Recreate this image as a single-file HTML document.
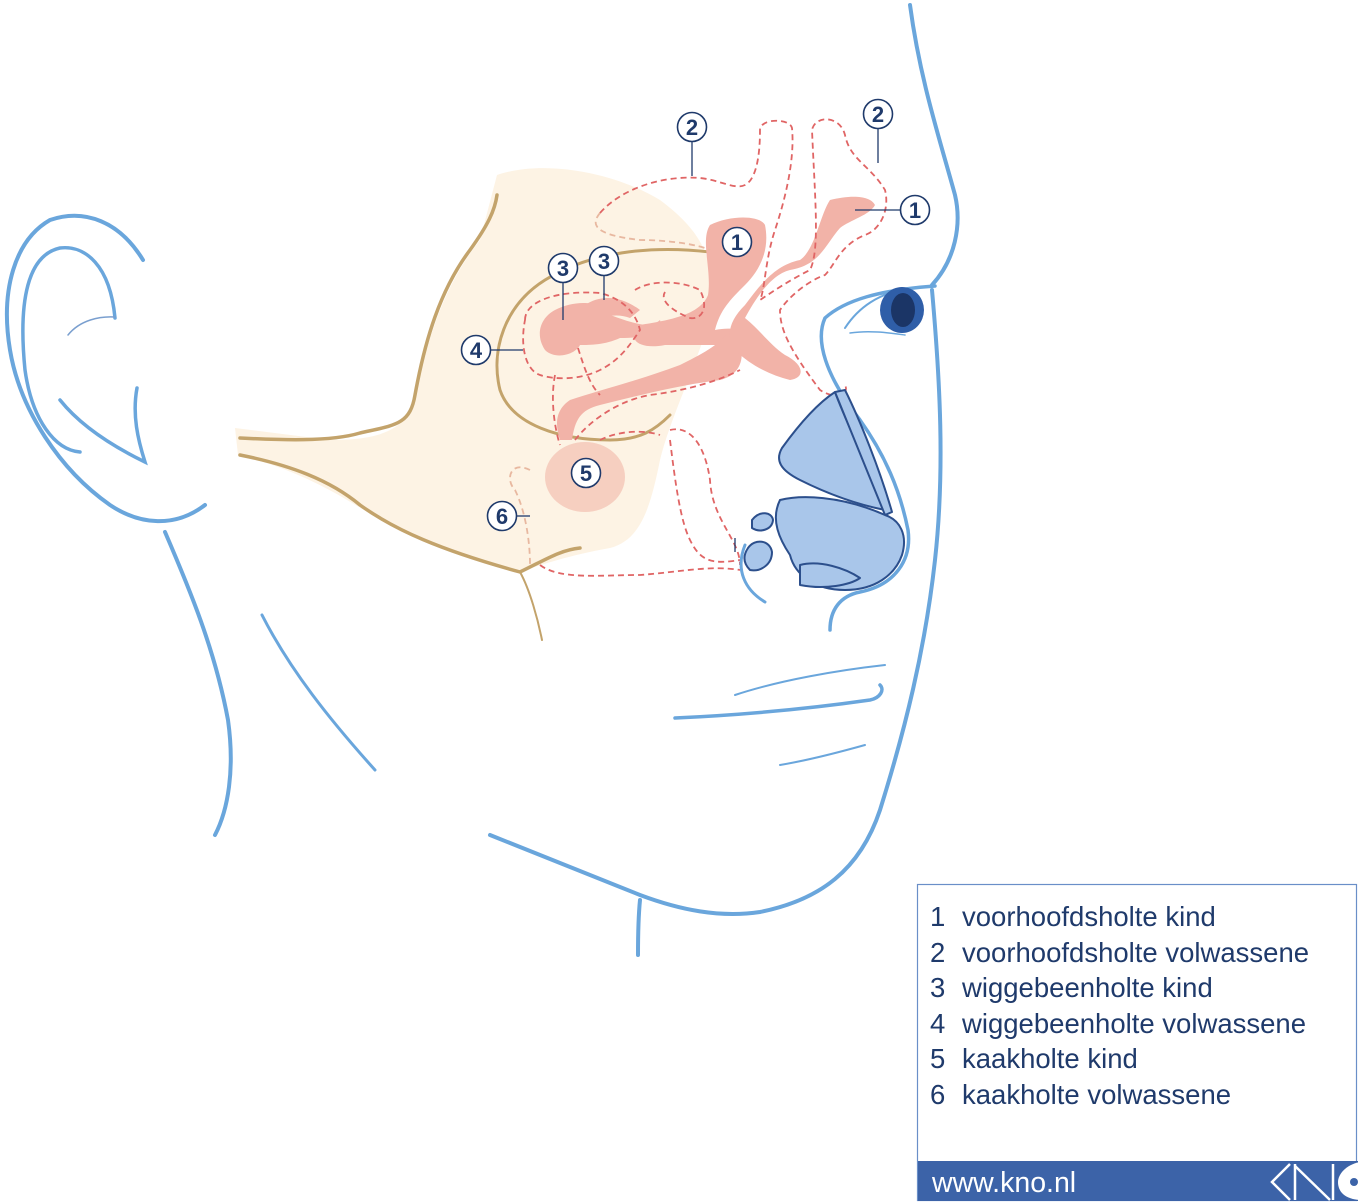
<!DOCTYPE html>
<html><head><meta charset="utf-8"><style>
html,body{margin:0;padding:0;background:#fff;}
svg{display:block;}
.leg{font-family:"Liberation Sans",sans-serif;font-size:27.5px;fill:#1f3a6b;}
.num{font-family:"Liberation Sans",sans-serif;font-size:22px;font-weight:bold;fill:#1f3a6b;text-anchor:middle;}
</style></head><body>
<svg width="1360" height="1203" viewBox="0 0 1360 1203" xmlns="http://www.w3.org/2000/svg">
<path d="M235,428 L330,440 C380,440 405,430 415,400 C425,350 440,290 480,240 L497,175 C540,160 610,170 660,200 C700,230 720,260 710,320 C690,380 670,420 660,460 C650,510 640,540 610,548 C570,555 540,565 520,572 C480,560 420,545 380,520 C340,495 300,470 238,455 Z" fill="#fdf3e4"/>
<g fill="none" stroke="#c3a36b" stroke-width="3.5" stroke-linecap="round">
<path d="M240,438 C280,440 330,442 360,433 C395,425 410,425 415,395 C425,340 440,290 470,250 C488,225 495,210 497,195"/>
<path d="M240,455 C290,465 330,480 360,505 C395,530 440,550 520,572 C545,560 560,550 580,548"/>
<path d="M520,572 C530,590 538,620 542,640" stroke-width="2"/>
<path d="M710,252 C650,245 590,252 545,280 C505,305 490,350 500,390 C512,425 560,440 610,440 C640,440 655,430 670,415" stroke-width="3"/>
</g>
<g fill="#f2b3a8">
<path d="M710,225 C730,215 760,215 765,225 C770,250 760,270 745,285 C730,300 720,310 715,330 C740,325 760,335 740,345 C715,345 690,345 665,345 C640,350 625,340 640,325 C670,320 700,315 708,295 C712,270 700,240 710,225 Z"/>
<path d="M555,310 C575,300 600,300 610,315 C630,322 650,330 660,320 C665,335 640,338 620,338 C605,345 590,345 580,345 C575,355 555,360 545,350 C535,335 540,318 555,310 Z"/>
<path d="M585,305 C600,295 620,295 640,310 L630,318 C615,312 600,318 590,322 Z"/>
<path d="M730,330 C720,345 700,355 680,365 C640,380 600,390 570,400 C555,410 555,425 560,440 L572,440 C575,420 580,410 600,405 C640,395 680,385 720,380 C740,375 745,360 740,340 Z"/>
<path d="M830,200 C850,195 870,195 875,205 C870,215 850,220 840,228 C825,245 820,265 790,270 C770,275 755,300 745,318 C760,330 770,345 785,355 C805,365 805,378 790,380 C770,375 750,365 735,350 C725,335 730,320 745,305 C760,285 775,265 800,260 C815,250 820,215 830,200 Z"/>
<ellipse cx="585" cy="477" rx="40" ry="35" fill="#f6cfc0"/>
</g>
<g fill="none" stroke="#e06565" stroke-width="1.8" stroke-dasharray="6,4">
<path d="M600,213 C620,190 660,175 700,178 C720,180 735,190 745,185 C755,180 760,160 760,130 C760,118 790,118 792,128 C795,160 785,200 775,230 C765,260 765,290 760,300 C775,290 790,280 810,270 C820,250 815,200 812,130 C815,115 840,115 845,135 C850,160 870,165 885,190 C890,210 880,230 865,235 C840,245 835,265 825,275 C810,280 790,295 780,310 C780,330 790,350 820,390 C835,400 850,395 845,385"/>
<path d="M600,213 C590,225 595,235 640,240 C670,240 700,245 710,250" stroke="#e8b8a0"/>
<path d="M635,290 C650,280 680,280 700,290 C710,310 700,320 690,318 C670,310 660,300 665,292"/>
<path d="M525,320 C525,300 560,290 600,293 C620,298 635,310 640,330 C630,345 620,360 600,370 C580,380 555,380 540,375 C525,370 520,345 525,320 Z"/>
<path d="M555,375 C550,400 555,430 560,445 M575,440 C590,420 620,400 650,395 C690,390 720,380 740,370"/>
<path d="M578,348 C585,370 590,385 600,395"/>
<path d="M670,430 C690,425 705,445 710,480 C712,520 740,540 740,565"/>
<path d="M670,440 C675,480 680,520 690,540 C700,560 710,565 740,560"/>
<path d="M540,565 C560,580 600,575 640,575 C680,572 710,565 740,570"/>
<path d="M530,470 C510,460 505,480 515,490 C525,510 530,540 530,565" stroke="#e8b8a0"/>
<path d="M600,440 C620,430 645,430 660,435"/>
</g>
<g fill="none" stroke="#6aa6dc" stroke-width="4" stroke-linecap="round">
<path d="M910,5 C920,80 940,140 955,195 C962,225 955,260 932,285"/>
<path d="M932,290 C940,380 945,470 935,560 C925,650 905,730 880,810 C860,870 820,900 760,912 C720,918 680,910 640,895 C590,875 540,855 490,835"/>
<path d="M935,286 C880,290 845,300 825,318 C815,340 825,375 860,420 C885,455 900,490 908,530 C912,560 895,585 860,592 C840,596 830,610 830,630" stroke-width="3.5"/>
<path d="M745,545 C735,570 745,590 765,602" stroke-width="3"/>
<path d="M143,260 C120,222 85,208 50,220 C15,240 0,290 10,350 C20,410 60,470 110,505 C140,525 175,528 205,505"/>
<path d="M115,318 C110,265 85,245 60,248 C28,255 18,300 25,370 C32,420 55,450 80,452" stroke-width="3.5"/>
<path d="M60,400 C80,425 110,445 145,462 C138,440 132,415 137,388" stroke-width="3.5"/>
<path d="M165,532 C190,590 215,650 228,720 C235,770 228,810 215,835"/>
<path d="M262,615 C290,670 330,720 375,770" stroke-width="3"/>
<path d="M640,900 C638,920 638,940 638,955"/>
<path d="M675,718 C740,715 800,710 870,700 C880,698 885,690 880,685" stroke-width="3.5"/>
<path d="M735,695 C780,680 840,670 885,665" stroke-width="2"/>
<path d="M780,765 C810,760 840,752 865,745" stroke-width="2"/>
<path d="M845,328 C860,305 880,295 900,290" stroke-width="2"/>
<path d="M850,333 C870,330 890,333 905,335" stroke-width="1.5"/>
<path d="M68,335 C80,320 100,316 115,317" stroke-width="1.5" stroke="#7a9fcf"/>
</g>
<ellipse cx="902" cy="310" rx="22" ry="23" fill="#2f5ea8"/>
<ellipse cx="903" cy="310" rx="12" ry="17" fill="#1b3566"/>
<g fill="#a9c6ea" stroke="#2c4f8c" stroke-width="2" stroke-linejoin="round">
<path d="M835,392 C845,420 870,470 885,510 C860,505 830,495 800,480 C780,470 775,460 782,448 C795,430 815,405 835,392 Z"/>
<path d="M835,392 L845,390 C860,420 880,470 892,512 L885,515 Z"/>
<path d="M780,500 C800,495 840,495 885,515 C900,520 908,535 902,555 C895,575 875,590 845,590 C815,590 795,575 790,555 C780,540 770,520 780,500 Z"/>
<path d="M752,520 C760,510 772,512 773,520 C772,530 760,533 752,528 Z"/>
<path d="M748,548 C755,538 770,540 772,552 C772,565 760,572 750,570 C742,562 744,554 748,548 Z"/>
<path d="M800,565 C820,560 845,568 860,578 C850,585 825,590 800,585 Z"/>
</g>
<g stroke="#1f3a6b" stroke-width="1.3" fill="none">
<line x1="692" y1="142" x2="692" y2="176"/>
<line x1="878" y1="129" x2="878" y2="163"/>
<line x1="900" y1="210" x2="855" y2="210"/>
<line x1="563" y1="283" x2="563" y2="320"/>
<line x1="604" y1="276" x2="604" y2="300"/>
<line x1="491" y1="350" x2="523" y2="350"/>
<line x1="517" y1="516" x2="530" y2="516"/>
<line x1="735" y1="538" x2="735" y2="552"/>
</g>
<g fill="#fff" stroke="#1f3a6b" stroke-width="1.6">
<circle cx="692" cy="127" r="14.5"/><circle cx="878" cy="114" r="14.5"/>
<circle cx="915" cy="210" r="14.5"/><circle cx="737" cy="242" r="14.5"/>
<circle cx="563" cy="268" r="14.5"/><circle cx="604" cy="261" r="14.5"/>
<circle cx="476" cy="350" r="14.5"/><circle cx="586" cy="473" r="14.5"/>
<circle cx="502" cy="516" r="14.5"/>
</g>
<g class="num">
<text x="692" y="135">2</text><text x="878" y="122">2</text>
<text x="915" y="218">1</text><text x="737" y="250">1</text>
<text x="563" y="276">3</text><text x="604" y="269">3</text>
<text x="476" y="358">4</text><text x="586" y="481">5</text>
<text x="502" y="524">6</text>
</g>
<rect x="917.5" y="884.5" width="439" height="316" fill="#fff" stroke="#6a8fc8" stroke-width="1.2"/>
<rect x="918" y="1161" width="440" height="40" fill="#3c63a8"/>
<text x="932" y="1192" font-family="Liberation Sans, sans-serif" font-size="28.5" fill="#fff">www.kno.nl</text>
<g fill="none" stroke="#fff" stroke-width="2.5">
<polyline points="1290,1164 1272,1182 1290,1200"/>
<line x1="1295" y1="1164" x2="1295" y2="1200"/>
<line x1="1295" y1="1166" x2="1330" y2="1200"/>
<line x1="1333" y1="1164" x2="1333" y2="1200"/>
</g>
<path d="M1360,1162 C1345,1165 1338,1175 1338,1182 C1338,1192 1345,1199 1360,1200 Z" fill="#fff"/>
<circle cx="1354" cy="1182" r="4" fill="#3c63a8"/>
<g class="leg">
<text x="930" y="926">1</text><text x="962" y="926">voorhoofdsholte kind</text>
<text x="930" y="962">2</text><text x="962" y="962">voorhoofdsholte volwassene</text>
<text x="930" y="997">3</text><text x="962" y="997">wiggebeenholte kind</text>
<text x="930" y="1033">4</text><text x="962" y="1033">wiggebeenholte volwassene</text>
<text x="930" y="1068">5</text><text x="962" y="1068">kaakholte kind</text>
<text x="930" y="1104">6</text><text x="962" y="1104">kaakholte volwassene</text>
</g>
</svg>
</body></html>
